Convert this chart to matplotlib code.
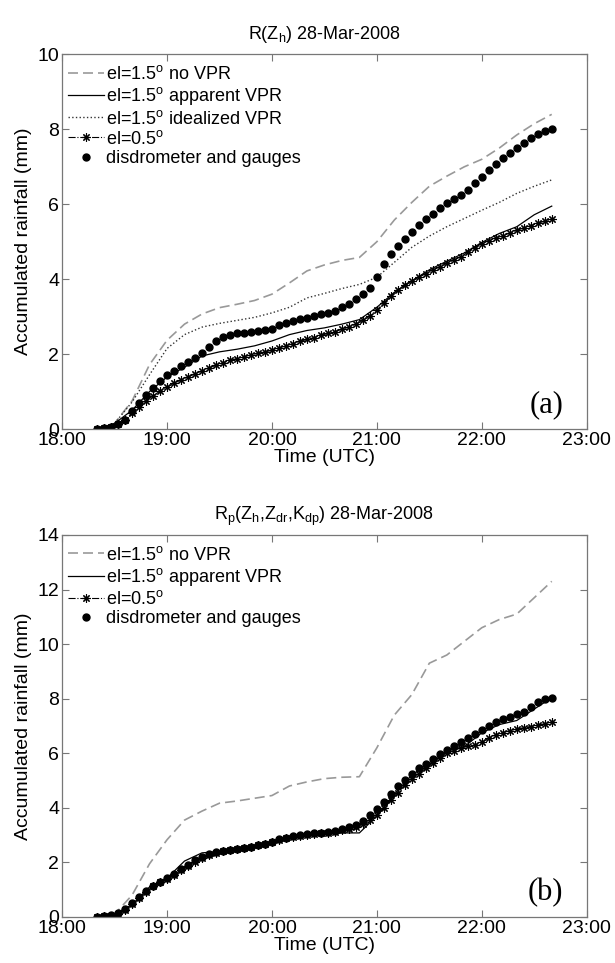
import numpy as np
import matplotlib
matplotlib.use('Agg')
import matplotlib.pyplot as plt

plt.rcParams['font.family'] = ['Liberation Sans', 'DejaVu Sans']
plt.rcParams['mathtext.fontset'] = 'custom'
plt.rcParams['mathtext.rm'] = 'Liberation Sans'
plt.rcParams['mathtext.it'] = 'Liberation Sans:italic'

# time grids, minutes after 18:00
t_fine = 20 + 4 * np.arange(66)      # 4 min steps (marker series)
t_coarse = 20 + 10 * np.arange(27)   # 10 min steps (plain lines)

# ---- panel (a) R(Zh)
a_novpr = [0.00, 0.15, 0.75, 1.72, 2.37, 2.80, 3.07, 3.24, 3.33, 3.43, 3.60, 3.90, 4.22, 4.38,
           4.50, 4.58, 5.00, 5.58, 6.05, 6.48, 6.75, 7.00, 7.20, 7.50, 7.85, 8.15, 8.40]
a_apparent = [0.00, 0.15, 0.50, 1.00, 1.39, 1.65, 1.95, 2.06, 2.13, 2.22, 2.35, 2.52, 2.63, 2.70,
              2.80, 2.92, 3.25, 3.65, 3.95, 4.25, 4.48, 4.70, 4.98, 5.22, 5.40, 5.72, 5.95]
a_ideal = [0.00, 0.15, 0.72, 1.45, 2.15, 2.52, 2.72, 2.82, 2.90, 2.98, 3.10, 3.25, 3.50, 3.62,
           3.75, 3.86, 4.05, 4.45, 4.85, 5.15, 5.40, 5.62, 5.84, 6.05, 6.29, 6.48, 6.65]
a_el05 = [0.00, 0.02, 0.06, 0.13, 0.24, 0.42, 0.60, 0.76, 0.89, 1.01, 1.12, 1.22, 1.31, 1.39,
          1.47, 1.55, 1.63, 1.70, 1.77, 1.83, 1.88, 1.93, 1.98, 2.02, 2.06, 2.10, 2.16, 2.22,
          2.28, 2.34, 2.39, 2.44, 2.50, 2.55, 2.60, 2.66, 2.72, 2.80, 2.90, 3.02, 3.18, 3.36,
          3.55, 3.72, 3.85, 3.95, 4.05, 4.15, 4.24, 4.33, 4.42, 4.51, 4.60, 4.72, 4.84, 4.95,
          5.03, 5.10, 5.16, 5.23, 5.30, 5.37, 5.43, 5.49, 5.55, 5.60]
a_disdro = [0.00, 0.02, 0.06, 0.13, 0.25, 0.47, 0.69, 0.92, 1.10, 1.27, 1.44, 1.56, 1.67, 1.78,
            1.90, 2.02, 2.18, 2.34, 2.45, 2.51, 2.55, 2.57, 2.59, 2.62, 2.64, 2.68, 2.77, 2.84,
            2.88, 2.93, 2.97, 3.02, 3.06, 3.10, 3.15, 3.25, 3.34, 3.46, 3.60, 3.76, 4.05, 4.40,
            4.68, 4.89, 5.08, 5.27, 5.45, 5.60, 5.74, 5.90, 6.03, 6.14, 6.26, 6.39, 6.56, 6.73,
            6.91, 7.08, 7.23, 7.36, 7.50, 7.64, 7.77, 7.88, 7.96, 8.00]

# ---- panel (b) Rp(Zh,Zdr,Kdp)
b_novpr = [0.00, 0.10, 0.80, 1.95, 2.83, 3.55, 3.88, 4.17, 4.25, 4.35, 4.45, 4.80, 4.95, 5.07,
           5.12, 5.14, 6.20, 7.40, 8.15, 9.30, 9.60, 10.10, 10.60, 10.90, 11.10, 11.70, 12.30]
b_apparent = [0.00, 0.10, 0.45, 1.10, 1.42, 2.05, 2.35, 2.40, 2.50, 2.60, 2.75, 2.92, 3.00, 3.05,
              3.08, 3.08, 3.70, 4.50, 5.20, 5.65, 6.10, 6.24, 6.75, 7.05, 7.20, 7.62, 8.03]
b_el05 = [0.00, 0.02, 0.05, 0.12, 0.27, 0.47, 0.70, 0.93, 1.12, 1.27, 1.40, 1.55, 1.71, 1.87,
          2.03, 2.16, 2.27, 2.36, 2.42, 2.46, 2.50, 2.54, 2.58, 2.63, 2.68, 2.75, 2.83, 2.89,
          2.93, 2.97, 3.01, 3.04, 3.07, 3.09, 3.12, 3.17, 3.23, 3.30, 3.40, 3.55, 3.72, 4.00,
          4.30, 4.55, 4.82, 5.05, 5.25, 5.45, 5.65, 5.83, 6.00, 6.10, 6.19, 6.25, 6.30, 6.40,
          6.55, 6.68, 6.76, 6.83, 6.88, 6.94, 6.98, 7.03, 7.08, 7.14]
b_disdro = [0.00, 0.02, 0.06, 0.13, 0.30, 0.50, 0.72, 0.96, 1.15, 1.29, 1.42, 1.58, 1.76, 1.92,
            2.08, 2.20, 2.30, 2.38, 2.43, 2.47, 2.50, 2.54, 2.58, 2.63, 2.69, 2.76, 2.85, 2.91,
            2.95, 2.99, 3.03, 3.06, 3.09, 3.11, 3.16, 3.22, 3.29, 3.38, 3.50, 3.72, 3.95, 4.20,
            4.50, 4.80, 5.03, 5.25, 5.45, 5.62, 5.79, 5.96, 6.13, 6.27, 6.42, 6.56, 6.70, 6.85,
            7.00, 7.14, 7.24, 7.33, 7.42, 7.51, 7.70, 7.87, 7.98, 8.02]

xticks = [0, 60, 120, 180, 240, 300]
xticklabels = ['18:00', '19:00', '20:00', '21:00', '22:00', '23:00']

lab_novpr = 'el=1.5$^{\\rm o}$ no VPR'
lab_app = 'el=1.5$^{\\rm o}$ apparent VPR'
lab_ideal = 'el=1.5$^{\\rm o}$ idealized VPR'
lab_el05 = 'el=0.5$^{\\rm o}$'
lab_dis = 'disdrometer and gauges'

fig = plt.figure(figsize=(6.15, 9.63), dpi=100)
ax1 = fig.add_axes([0.101, 0.5545, 0.853, 0.389])
ax2 = fig.add_axes([0.101, 0.0478, 0.853, 0.3967])

gray = '#999999'
aster = (8, 2, 0)   # matlab-like '*'


def style(ax, ymax, title, tag):
    ax.set_xlim(0, 300)
    ax.set_ylim(0, ymax)
    ax.set_xticks(xticks)
    ax.set_xticklabels(xticklabels)
    ax.set_yticks(np.arange(0, ymax + 1, 2))
    ax.tick_params(direction='in', top=True, right=True, length=5, color='#777777',
                   labelsize=14, pad=2)
    for s in ax.spines.values():
        s.set_color('#777777')
        s.set_linewidth(0.9)
    ax.set_xlabel('Time (UTC)', fontsize=14, labelpad=0)
    ax.set_ylabel('Accumulated rainfall (mm)', fontsize=14, labelpad=4)
    ax.set_title(title, fontsize=13, pad=11)
    ax.text(0.955, 0.025, tag, transform=ax.transAxes, ha='right', va='bottom',
            fontsize=22, family=['Liberation Serif', 'DejaVu Serif'])
    ax.legend(loc='upper left', frameon=False, fontsize=13, handlelength=2.0,
              handletextpad=0.1, labelspacing=0.12, borderaxespad=0.2,
              bbox_to_anchor=(-0.01, 1.0))


ax1.plot(t_coarse, a_novpr, '--', color=gray, lw=1.2, dashes=(6, 3), label=lab_novpr)
ax1.plot(t_coarse, a_apparent, '-', color='black', lw=0.9, label=lab_app)
ax1.plot(t_coarse, a_ideal, ':', color='#333333', lw=1.0, label=lab_ideal)
ax1.plot(t_fine, a_el05, '-.', color='black', lw=0.8, marker=aster, ms=6, mew=0.8,
         label=lab_el05)
ax1.plot(t_fine, a_disdro, 'o', color='black', ms=5, ls='none', label=lab_dis)
style(ax1, 10, 'R(Z$_{\\rm h}$) 28-Mar-2008', '(a)')

ax2.plot(t_coarse, b_novpr, '--', color=gray, lw=1.2, dashes=(6, 3), label=lab_novpr)
ax2.plot(t_coarse, b_apparent, '-', color='black', lw=0.9, label=lab_app)
ax2.plot(t_fine, b_el05, '-.', color='black', lw=0.8, marker=aster, ms=6, mew=0.8,
         label=lab_el05)
ax2.plot(t_fine, b_disdro, 'o', color='black', ms=5, ls='none', label=lab_dis)
style(ax2, 14, 'R$_{\\rm p}$(Z$_{\\rm h}$,Z$_{\\rm dr}$,K$_{\\rm dp}$) 28-Mar-2008', '(b)')

fig.savefig('out.png', dpi=100)
